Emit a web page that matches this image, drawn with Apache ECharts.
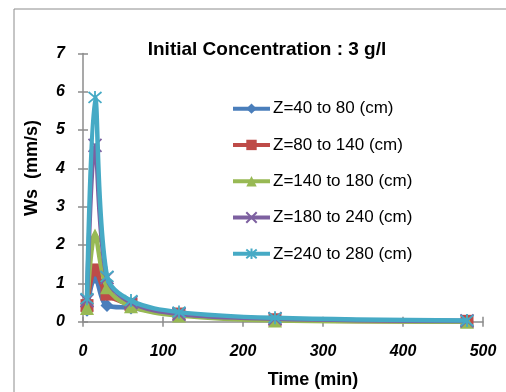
<!DOCTYPE html>
<html>
<head>
  <title>Initial Concentration 3 g/l</title>
  <script src="https://cdnjs.cloudflare.com/ajax/libs/echarts/6.0.0/echarts.min.js"></script>
</head>
<body style="margin:0">
  <div id="chartContainer" style="width: 506px; height: 392px;"></div>

  <script>
    // Time in minutes, settling velocity Ws (mm/s) per depth range
    const times = [5, 15, 30, 60, 120, 240, 480];
    const seriesNames = ['Z=40 to 80 (cm)', 'Z=80 to 140 (cm)', 'Z=140 to 180 (cm)', 'Z=180 to 240 (cm)', 'Z=240 to 280 (cm)'];
    const ws40to80 = [0.3, 1.15, 0.42, 0.36, 0.2, 0.07, 0.02];
    const ws80to140 = [0.42, 1.35, 0.72, 0.45, 0.2, 0.05, 0.01];
    const ws140to180 = [0.36, 2.25, 0.9, 0.4, 0.16, 0.03, 0.0];
    const ws180to240 = [0.55, 4.6, 1.15, 0.5, 0.2, 0.08, 0.02];
    const ws240to280 = [0.6, 5.85, 1.18, 0.55, 0.25, 0.1, 0.03];
    const yTicks = [0, 1, 2, 3, 4, 5, 6, 7];
    const xTicks = [0, 100, 200, 300, 400, 500];

    const colors = ['#4A7EBB', '#BE4B48', '#98B954', '#7D60A0', '#46AAC5'];
    const symbols = [
      'diamond',
      'rect',
      'triangle',
      'path://M0,0L10,10M10,0L0,10',
      'path://M0,0L10,10M10,0L0,10M5,-1L5,11'
    ];
    const allData = [ws40to80, ws80to140, ws140to180, ws180to240, ws240to280];

    const myChart = echarts.init(document.getElementById('chartContainer'));

    const series = allData.map((vals, i) => {
      const isLineSymbol = i >= 3;
      return {
        name: seriesNames[i],
        type: 'line',
        smooth: 0.35,
        data: times.map((t, k) => [t, vals[k]]),
        symbol: symbols[i],
        symbolSize: i === 2 ? 14 : 13,
        showAllSymbol: true,
        lineStyle: { color: colors[i], width: 4.5 },
        itemStyle: isLineSymbol
          ? { color: colors[i], borderColor: colors[i], borderWidth: 1.8 }
          : { color: colors[i] },
        emphasis: { disabled: true },
        z: 2 + i
      };
    });

    const axisLineStyle = { color: '#8C8C8C', width: 1.5 };
    const tickLabelStyle = {
      fontFamily: 'Liberation Sans',
      fontWeight: 'bold',
      fontStyle: 'italic',
      fontSize: 16,
      color: '#000'
    };

    const option = {
      animation: false,
      graphic: [
        {
          type: 'rect',
          shape: { x: 14, y: 9, width: 520, height: 420 },
          style: { fill: 'none', stroke: '#8C8C8C', lineWidth: 1 },
          silent: true
        },
        {
          type: 'text',
          x: 313,
          y: 380,
          style: {
            text: 'Time (min)',
            font: 'bold 18px "Liberation Sans"',
            fill: '#000',
            textAlign: 'center',
            textVerticalAlign: 'middle'
          }
        },
        {
          type: 'text',
          x: 32,
          y: 168,
          rotation: Math.PI / 2,
          style: {
            text: 'Ws  (mm/s)',
            font: 'bold 18px "Liberation Sans"',
            fill: '#000',
            textAlign: 'center',
            textVerticalAlign: 'middle'
          }
        }
      ],
      title: {
        text: 'Initial Concentration : 3 g/l',
        left: 262,
        textAlign: 'center',
        top: 28,
        textStyle: {
          fontFamily: 'Liberation Sans',
          fontWeight: 'bold',
          fontSize: 19,
          color: '#000'
        }
      },
      legend: {
        orient: 'vertical',
        left: 226,
        top: 89,
        itemWidth: 37,
        itemHeight: 13,
        itemGap: 7,
        data: seriesNames,
        lineStyle: { width: 4 },
        textStyle: {
          fontFamily: 'Liberation Sans',
          fontSize: 17,
          color: '#000',
          padding: [0, 0, 0, -2]
        }
      },
      grid: { left: 83, right: 23, top: 53.4, bottom: 70.3 },
      xAxis: [
        {
          type: 'value',
          min: xTicks[0],
          max: xTicks[xTicks.length - 1],
          interval: 100,
          axisLine: { lineStyle: axisLineStyle },
          axisTick: { show: true, length: 5, lineStyle: axisLineStyle },
          axisLabel: Object.assign({ margin: 16 }, tickLabelStyle),
          splitLine: { show: false }
        },
        {
          type: 'value',
          position: 'bottom',
          min: xTicks[0],
          max: xTicks[xTicks.length - 1],
          interval: 100,
          axisLine: { show: false },
          axisTick: { show: true, inside: true, length: 5, lineStyle: axisLineStyle },
          axisLabel: { show: false },
          splitLine: { show: false }
        }
      ],
      yAxis: [
        {
          type: 'value',
          min: yTicks[0],
          max: yTicks[yTicks.length - 1],
          interval: 1,
          axisLine: { show: true, lineStyle: axisLineStyle },
          axisTick: { show: true, length: 5, lineStyle: axisLineStyle },
          axisLabel: Object.assign({ margin: 18 }, tickLabelStyle),
          splitLine: { show: false }
        },
        {
          type: 'value',
          position: 'left',
          min: yTicks[0],
          max: yTicks[yTicks.length - 1],
          interval: 1,
          axisLine: { show: false },
          axisTick: { show: true, inside: true, length: 5, lineStyle: axisLineStyle },
          axisLabel: { show: false },
          splitLine: { show: false }
        }
      ],
      series: series
    };

    myChart.setOption(option);
  </script>
</body>
</html>
